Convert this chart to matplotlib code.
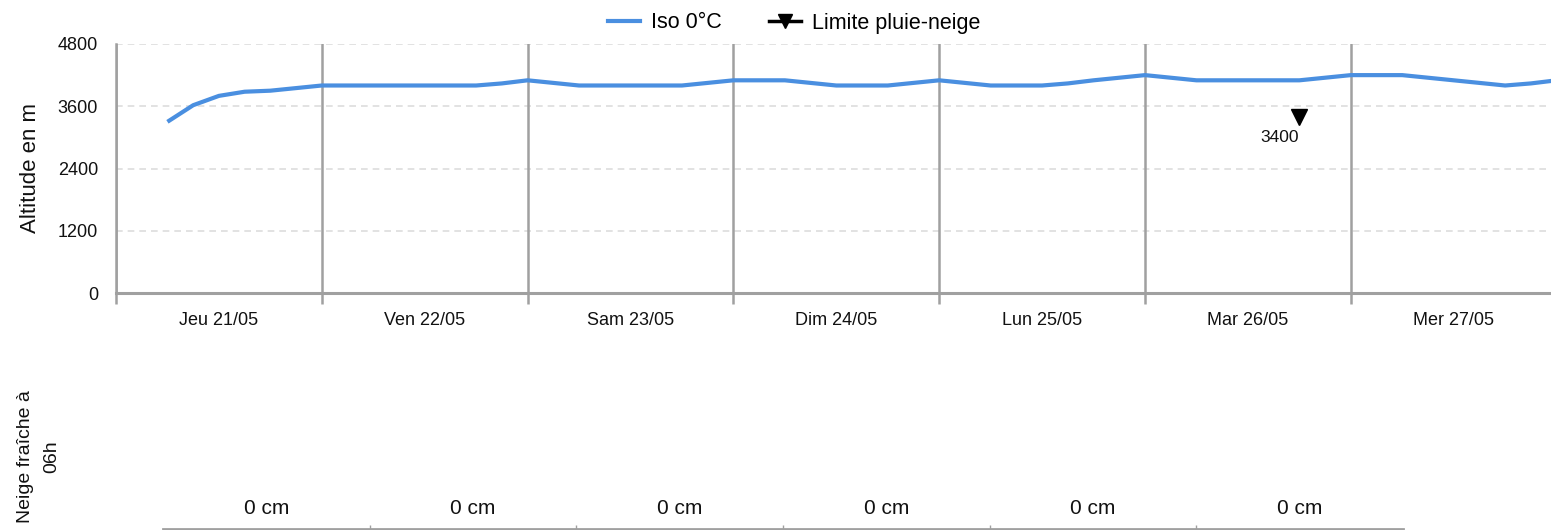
import matplotlib.pyplot as plt
from matplotlib.lines import Line2D

plt.rcParams['font.family'] = ['Liberation Sans', 'DejaVu Sans']

# heures depuis Jeu 21/05 00h, pas de 3h
heures = [6, 9, 12, 15, 18, 21, 24, 27, 30, 33, 36, 39, 42, 45, 48, 51, 54, 57, 60, 63,
          66, 69, 72, 75, 78, 81, 84, 87, 90, 93, 96, 99, 102, 105, 108, 111, 114, 117,
          120, 123, 126, 129, 132, 135, 138, 141, 144, 147, 150, 153, 156, 159, 162, 165, 168]
iso0 = [3300, 3620, 3800, 3880, 3900, 3950, 4000, 4000, 4000, 4000, 4000, 4000, 4000, 4040,
        4100, 4050, 4000, 4000, 4000, 4000, 4000, 4050, 4100, 4100, 4100, 4050, 4000, 4000,
        4000, 4050, 4100, 4050, 4000, 4000, 4000, 4040, 4100, 4150, 4200, 4150, 4100, 4100,
        4100, 4100, 4100, 4150, 4200, 4200, 4200, 4150, 4100, 4050, 4000, 4040, 4100]

# limite pluie-neige
limite_h = [138]
limite_val = [3400]

jours = ['Jeu 21/05', 'Ven 22/05', 'Sam 23/05', 'Dim 24/05', 'Lun 25/05', 'Mar 26/05', 'Mer 27/05']
neige = [0, 0, 0, 0, 0, 0]
yticks = [0, 1200, 2400, 3600, 4800]

bleu = '#4a8fe0'
gris = '#a0a0a0'

fig = plt.figure(figsize=(15.51, 5.30), dpi=100)

# graphique du haut
ax = fig.add_axes([116/1551, (530-293)/530, (1551-116)/1551, (293-44)/530])
ax.plot(heures, iso0, color=bleu, lw=3, solid_joinstyle='round', solid_capstyle='butt', zorder=3)
ax.plot(limite_h, limite_val, linestyle='none', marker='v', color='black', markersize=11, zorder=4)
for h, v in zip(limite_h, limite_val):
    ax.annotate(str(v), (h, v), xytext=(-14, -15), textcoords='offset points',
                ha='center', va='center', fontsize=12.5, color='#111111')

ax.set_xlim(0, (1551-116)/205.8*24)
ax.set_ylim(0, 4800)
ax.set_yticks(yticks)
ax.set_yticklabels([str(v) for v in yticks], fontsize=13, color='#111111')
for v in yticks[1:]:
    ax.axhline(v, color='#dddddd', lw=1.2, ls=(0, (4, 3)), zorder=1)

ax.set_xticks([24*i for i in range(7)])
ax.set_xticklabels([])
ax.set_xticks([24*i + 12 for i in range(7)], minor=True)
ax.set_xticklabels(jours, minor=True, fontsize=13, color='#111111')
ax.tick_params(axis='x', which='major', length=8, width=1.8, color=gris)
ax.tick_params(axis='x', which='minor', length=0, pad=14)
ax.tick_params(axis='y', length=0, pad=13)
ax.grid(axis='x', which='major', color=gris, lw=1.8, zorder=1)

for s in ['top', 'right']:
    ax.spines[s].set_visible(False)
ax.spines['left'].set_color(gris)
ax.spines['left'].set_linewidth(1.8)
ax.spines['bottom'].set_color(gris)
ax.spines['bottom'].set_linewidth(2.2)

fig.text(30/1551, 1-168/530, 'Altitude en m', rotation=90, ha='center', va='center',
         fontsize=16, color='#111111')

# légende
poignees = [Line2D([], [], color=bleu, lw=3),
            Line2D([], [], color='black', lw=2.5, marker='v', markersize=10)]
fig.legend(poignees, ['Iso 0°C', 'Limite pluie-neige'], loc='center', ncol=2,
           bbox_to_anchor=(794/1551, 1-23/530), frameon=False, fontsize=15.5,
           handlelength=1.5, handletextpad=0.5, columnspacing=2.2)

# neige fraîche
ax2 = fig.add_axes([163/1551, 1/530, 1240/1551, 60/530])
ax2.set_xlim(0, len(neige))
ax2.set_ylim(0, 1)
for i, n in enumerate(neige):
    ax2.text(i + 0.5, (529-508)/60, f'{n} cm', ha='center', va='center',
             fontsize=15, color='#111111')
for s in ['top', 'right', 'left']:
    ax2.spines[s].set_visible(False)
ax2.spines['bottom'].set_color(gris)
ax2.spines['bottom'].set_linewidth(2)
ax2.set_yticks([])
ax2.set_xticks(range(1, len(neige)))
ax2.set_xticklabels([])
ax2.tick_params(axis='x', direction='in', length=3, width=1, color=gris)

fig.text(39/1551, 1-457/530, 'Neige fraîche à\n06h', rotation=90, ha='center', va='center',
         multialignment='center', fontsize=14, linespacing=1.7, color='#111111')

fig.savefig('out.png', dpi=100)
